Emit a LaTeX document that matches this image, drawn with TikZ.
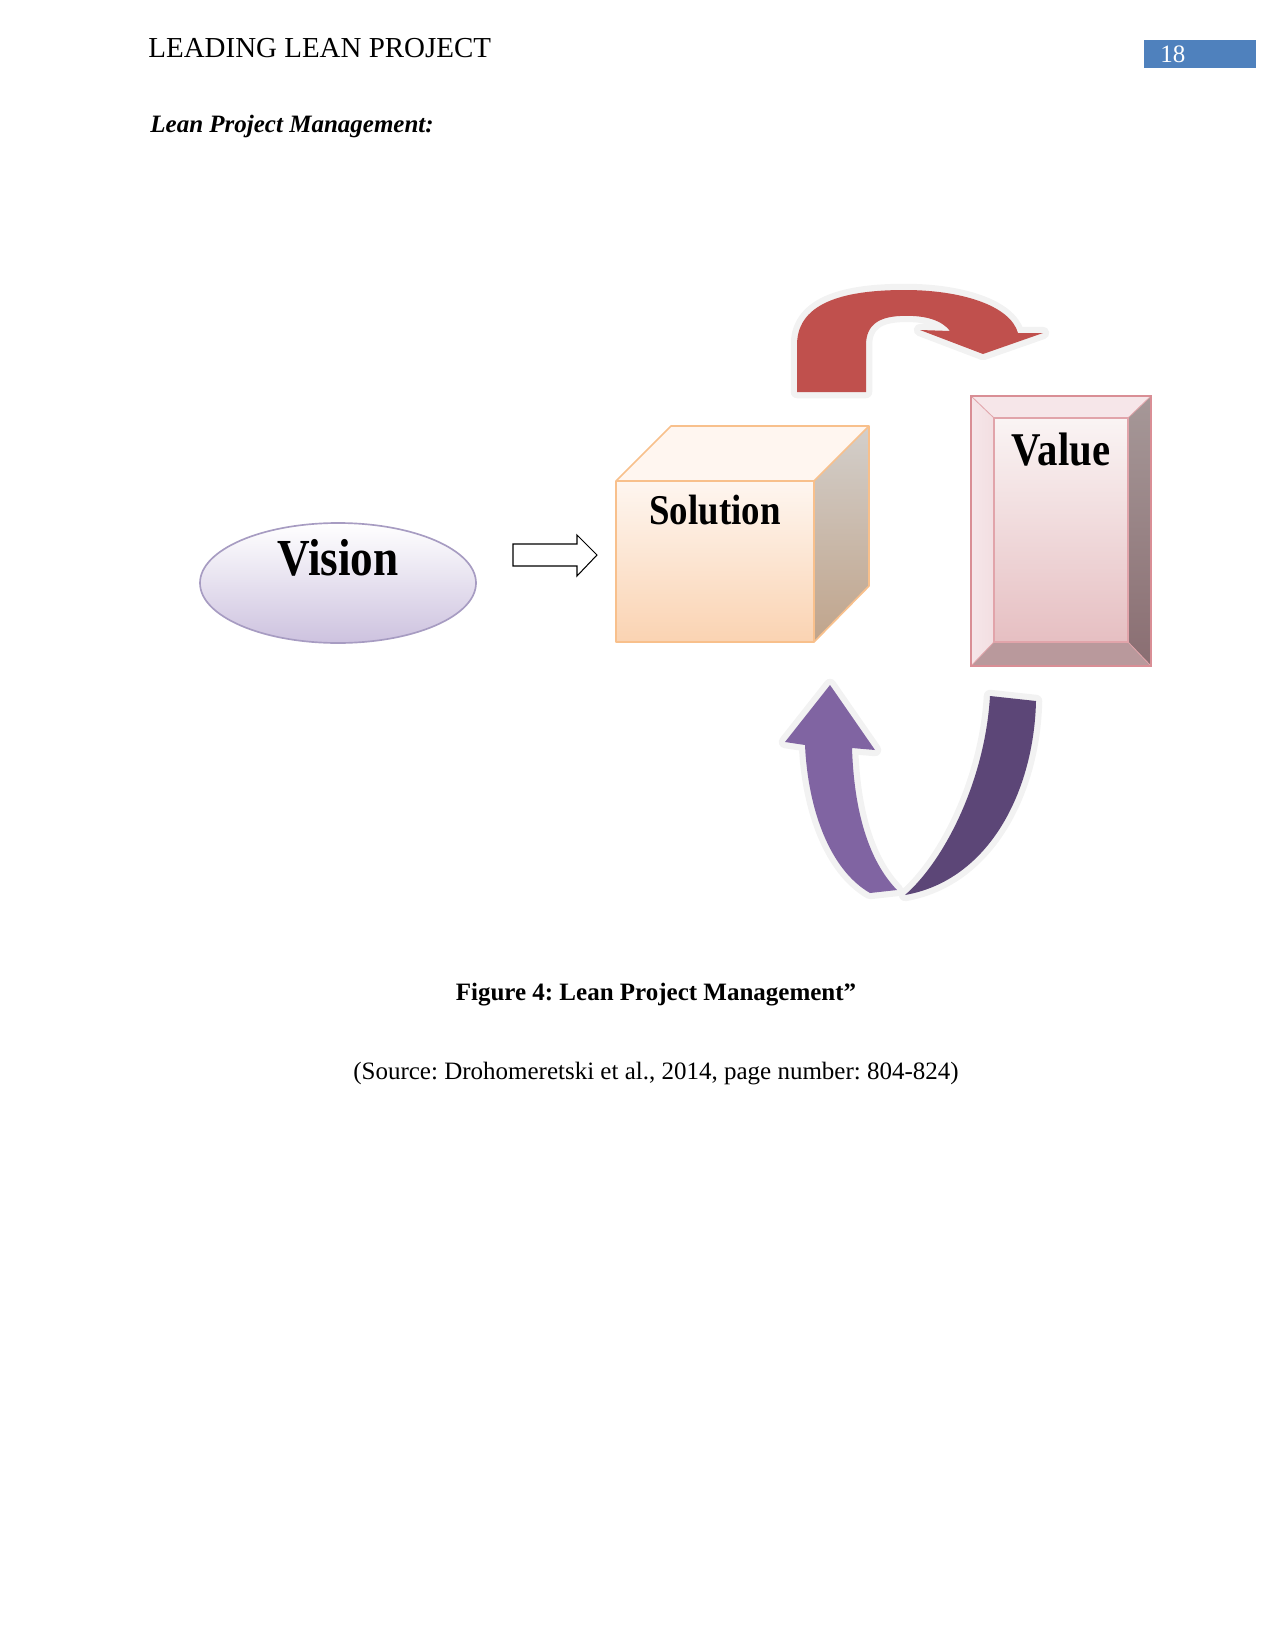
\documentclass[tikz,border=0pt]{standalone}
\usepackage{fontspec}
\setmainfont{Liberation Serif}
\usepackage{graphicx}
\frenchspacing

\definecolor{hdrblue}{HTML}{4F81BD}
\definecolor{visionline}{HTML}{A79CC2}
\definecolor{visionlow}{HTML}{CDC2DF}
\definecolor{cubeline}{HTML}{F8C08C}
\definecolor{cubetop}{HTML}{FFF6F0}
\definecolor{cubefronttop}{HTML}{FEF6F0}
\definecolor{cubefrontlow}{HTML}{FAD3B2}
\definecolor{cubesidetop}{HTML}{D3CFCB}
\definecolor{cubesidelow}{HTML}{C0A48B}
\definecolor{valueline}{HTML}{D98E95}
\definecolor{valuefacetop}{HTML}{FAF4F4}
\definecolor{valuefacelow}{HTML}{E6BFC2}
\definecolor{valuelight}{HTML}{F6E6E9}
\definecolor{valuesidetop}{HTML}{A69898}
\definecolor{valuesidelow}{HTML}{8A6E72}
\definecolor{valuebottom}{HTML}{B9999C}
\definecolor{turnred}{HTML}{C0504D}
\definecolor{loopviolet}{HTML}{8064A2}
\definecolor{loopdark}{HTML}{5C4677}

\newcommand{\tallword}[1]{\scalebox{1}[1.15]{#1}}

\begin{document}
\begin{tikzpicture}[x=0.48pt, y=-0.48pt,
  halo/.style={draw=black!5, line width=6pt, line join=round},
  bigword/.style={anchor=base, inner sep=0pt, font=\bfseries},
  plain/.style={anchor=base, inner sep=0pt, font=\fontsize{12}{14}\selectfont}]

  \useasboundingbox (0,0) rectangle (1275,1651);

  % --- Kopfzeile ---
  \node[plain, anchor=base west, font=\fontsize{13.9}{16}\selectfont] (header) at (148,58) {LEADING LEAN PROJECT};
  \fill[hdrblue] (1144,40) rectangle (1256,68);
  \node[plain, anchor=base west, text=white] (pagenum) at (1160,63) {18};
  \node[plain, anchor=base west, font=\fontsize{12}{14}\selectfont\bfseries\itshape] (heading) at (150,133) {Lean Project Management:};

  % --- Vision (Ellipse) ---
  \shade[top color=white, bottom color=visionlow] (338,583) ellipse (138 and 60);
  \draw[visionline, line width=0.8pt] (338,583) ellipse (138 and 60);
  \node[bigword, font=\bfseries\fontsize{21.7}{24}\selectfont] (vision) at (338,575) {\tallword{Vision}};

  % --- Blockpfeil ---
  \draw[black, line width=0.5pt, fill=white]
      (513,544) -- (577,544) -- (577,535) -- (597,555) -- (577,576) -- (577,566) -- (513,566) -- cycle;

  % --- Solution (Würfel) ---
  \fill[cubetop] (616,481) -- (671,426) -- (869,426) -- (814,481) -- cycle;  % Deckfläche
  \shade[top color=cubesidetop, bottom color=cubesidelow]
      (814,481) -- (869,426) -- (869,586) -- (814,642) -- cycle;               % Seitenfläche
  \shade[top color=cubefronttop, bottom color=cubefrontlow] (616,481) rectangle (814,642);
  \draw[cubeline, line width=0.8pt, line join=round]
      (616,481) -- (671,426) -- (869,426) -- (869,586) -- (814,642) -- (616,642) -- cycle;
  \draw[cubeline, line width=0.8pt] (616,481) -- (814,481) -- (869,426) (814,481) -- (814,642);
  \node[bigword, font=\bfseries\fontsize{17.7}{20}\selectfont] (solution) at (715,524) {\tallword{Solution}};

  % --- Value (Rahmen mit Fase) ---
  \fill[valuelight] (971,396) -- (1151,396) -- (1128,418) -- (994,418) -- cycle;    % oben
  \shade[left color=valuelight, right color=valuelight!80!valuefacelow]
      (971,396) -- (994,418) -- (994,642) -- (971,666) -- cycle;                     % links
  \shade[top color=valuesidetop, bottom color=valuesidelow]
      (1151,396) -- (1151,666) -- (1128,642) -- (1128,418) -- cycle;                 % rechts
  \fill[valuebottom] (971,666) -- (1151,666) -- (1128,642) -- (994,642) -- cycle;    % unten
  \shade[top color=valuefacetop, bottom color=valuefacelow] (994,418) rectangle (1128,642);
  \draw[valueline!80, line width=0.5pt] (994,418) rectangle (1128,642);
  \draw[valueline!80, line width=0.4pt] (971,396) -- (994,418) (1151,396) -- (1128,418)
      (971,666) -- (994,642) (1151,666) -- (1128,642);
  \draw[valueline, line width=0.9pt] (971,396) rectangle (1151,666);
  \node[bigword, font=\bfseries\fontsize{19.6}{22}\selectfont] (value) at (1061,465) {\tallword{Value}};

  % --- Roter Wendepfeil ---
  \path[halo, fill=turnred]
      (797,392) -- (797,345)
      .. controls (797,300) and (850,290) .. (905,290)
      .. controls (960,290) and (1010,305) .. (1018,333)
      -- (1043,333) -- (983,354) -- (920,330) -- (950,331)
      .. controls (940,318) and (920,315) .. (900,316)
      .. controls (880,317) and (866,324) .. (866,345)
      -- (866,392) -- cycle;
  \fill[turnred]
      (797,392) -- (797,345)
      .. controls (797,300) and (850,290) .. (905,290)
      .. controls (960,290) and (1010,305) .. (1018,333)
      -- (1043,333) -- (983,354) -- (920,330) -- (950,331)
      .. controls (940,318) and (920,315) .. (900,316)
      .. controls (880,317) and (866,324) .. (866,345)
      -- (866,392) -- cycle;

  % --- Violetter Kreislauf ---
  \path[halo, fill=loopdark]
      (990,696) -- (1036,701)
      .. controls (1034,790) and (990,880) .. (905,895)
      .. controls (945,860) and (985,780) .. (990,696) -- cycle;
  \fill[loopdark]
      (990,696) -- (1036,701)
      .. controls (1034,790) and (990,880) .. (905,895)
      .. controls (945,860) and (985,780) .. (990,696) -- cycle;
  \path[halo, fill=loopviolet]
      (805,745) -- (785,742) -- (830,685) -- (875,750) -- (852,748)
      .. controls (854,810) and (868,860) .. (897,890)
      -- (870,893)
      .. controls (830,870) and (808,810) .. (805,745) -- cycle;
  \fill[loopviolet]
      (805,745) -- (785,742) -- (830,685) -- (875,750) -- (852,748)
      .. controls (854,810) and (868,860) .. (897,890)
      -- (870,893)
      .. controls (830,870) and (808,810) .. (805,745) -- cycle;

  % --- Bildunterschrift ---
  \node[plain, font=\fontsize{12}{14}\selectfont\bfseries] (caption) at (656,1000) {Figure 4: Lean Project Management”};
  \node[plain] (source) at (656,1079) {(Source: Drohomeretski et al., 2014, page number: 804-824)};

\end{tikzpicture}
\end{document}
